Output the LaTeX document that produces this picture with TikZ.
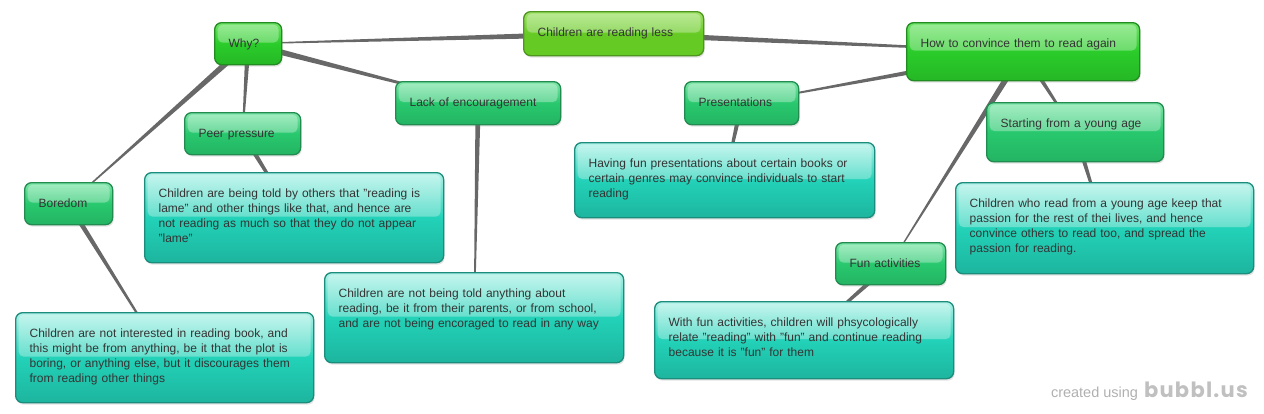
\documentclass[tikz,border=0pt]{standalone}
\usepackage{fontspec}
\setmainfont{Liberation Sans}
\newfontfamily\logofont[LetterSpace=6]{Poppins}
\usepackage{xcolor}
\usepackage{tikz}
\usetikzlibrary{calc,shadows,backgrounds}
\definecolor{rootlight}{RGB}{160,226,104}
\definecolor{rootdark}{RGB}{102,202,36}
\definecolor{rootedge}{RGB}{78,150,30}
\definecolor{mainlight}{RGB}{112,228,104}
\definecolor{maindark}{RGB}{42,204,42}
\definecolor{mainedge}{RGB}{34,140,34}
\definecolor{sublight}{RGB}{126,230,168}
\definecolor{subdark}{RGB}{40,200,110}
\definecolor{subedge}{RGB}{34,140,80}
\definecolor{notelight}{RGB}{176,242,232}
\definecolor{notedark}{RGB}{34,210,184}
\definecolor{noteedge}{RGB}{28,140,124}
\definecolor{linkgray}{RGB}{104,104,104}
\definecolor{inkgray}{RGB}{52,52,52}
\definecolor{creditgray}{RGB}{176,176,176}
\definecolor{logogray}{RGB}{192,192,192}
\newcommand{\branch}[4]{\fill[linkgray] ($(#1)!#3!90:(#2)$) -- ($(#1)!#3!-90:(#2)$) -- ($(#2)!#4!90:(#1)$) -- ($(#2)!#4!-90:(#1)$) -- cycle;}

\begin{document}
\begin{tikzpicture}[
  x=1pt, y=-1pt,
  bubble/.style={anchor=north west, rounded corners=7pt, line width=1.3pt, inner xsep=14pt, inner ysep=0pt,
    text height=25pt, align=left, text=inkgray, font=\fontsize{12}{15}\selectfont,
    drop shadow={opacity=.22, shadow xshift=1pt, shadow yshift=-2pt},
    path picture={\fill[white, opacity=.3, rounded corners=5pt]
      ([shift={(3pt,-2pt)}]path picture bounding box.north west) rectangle ([shift={(-3pt,1pt)}]path picture bounding box.east);}},
  rootbox/.style={bubble, draw=rootedge, top color=rootlight, bottom color=rootdark, middle color=rootdark},
  mainbox/.style={bubble, draw=mainedge, top color=mainlight, bottom color=maindark!90!black, middle color=maindark},
  subbox/.style={bubble, draw=subedge, top color=sublight, bottom color=subdark!90!black, middle color=subdark},
  notebox/.style={bubble, draw=noteedge, top color=notelight, bottom color=notedark!86!black, middle color=notedark}
]
  \useasboundingbox (0,0) rectangle (1264,413);

  \node[rootbox, text width=152pt, text depth=19pt] (root) at (523,11) {Children are reading less};
  \node[mainbox, text width=39pt, text depth=17pt] (why) at (214,22) {Why?};
  \node[mainbox, text width=205pt, text depth=33pt] (howto) at (906,22) {How to convince them to read again};

  \node[subbox, text width=88pt, text depth=17pt] (peer) at (184,112) {Peer pressure};
  \node[subbox, text width=137pt, text depth=18pt] (lack) at (395,81) {Lack of encouragement};
  \node[subbox, text width=60pt, text depth=17pt] (boredom) at (24,182) {Boredom};
  \node[subbox, text width=86pt, text depth=18pt] (present) at (684,81) {Presentations};
  \node[subbox, text width=149pt, text depth=34pt] (young) at (986,102) {Starting from a young age};
  \node[subbox, text width=82pt, text depth=17pt] (fun) at (835,242) {Fun activities};

  \node[notebox, text width=271pt, text depth=65pt] (peernote) at (144,172) {Children are being told by others that "reading is\\lame" and other things like that, and hence are\\not reading as much so that they do not appear\\"lame"};
  \node[notebox, text width=270pt, text depth=65pt] (boredomnote) at (15,312) {Children are not interested in reading book, and\\this might be from anything, be it that the plot is\\boring, or anything else, but it discourages them\\from reading other things};
  \node[notebox, text width=271pt, text depth=65pt] (lacknote) at (324,272) {Children are not being told anything about\\reading, be it from their parents, or from school,\\and are not being encoraged to read in any way};
  \node[notebox, text width=272pt, text depth=50pt] (presentnote) at (574,142) {Having fun presentations about certain books or\\certain genres may convince individuals to start\\reading};
  \node[notebox, text width=270pt, text depth=66pt] (youngnote) at (955,182) {Children who read from a young age keep that\\passion for the rest of thei lives, and hence\\convince others to read too, and spread the\\passion for reading.};
  \node[notebox, text width=271pt, text depth=52pt] (funnote) at (654,301) {With fun activities, children will phsycologically\\relate "reading" with "fun" and continue reading\\because it is "fun" for them};

  \node[anchor=east, inner sep=0pt] (credit) at (1248,391)
    {\color{creditgray}\fontsize{14.5}{15}\selectfont created using\hspace{6pt}\color{logogray}\logofont\fontsize{21}{21}\selectfont\bfseries bubbl.us};

  \begin{pgfonlayer}{background}
    \branch{root}{why}{3.2pt}{0.5pt}
    \branch{root}{howto}{3.2pt}{0.5pt}
    \branch{why}{boredom}{3.2pt}{0.4pt}
    \branch{why}{peer}{2.6pt}{0.6pt}
    \branch{why}{lack}{3.2pt}{0.5pt}
    \branch{howto}{present}{3.2pt}{0.4pt}
    \branch{howto}{young}{2.6pt}{0.6pt}
    \branch{howto}{fun}{3.2pt}{0.4pt}
    \branch{boredom}{boredomnote}{2.6pt}{0.5pt}
    \branch{peer}{peernote}{2.6pt}{0.6pt}
    \branch{lack}{lacknote}{2.6pt}{0.4pt}
    \branch{present}{presentnote}{2.6pt}{0.6pt}
    \branch{young}{youngnote}{2.6pt}{0.6pt}
    \branch{fun}{funnote}{2.6pt}{0.6pt}
  \end{pgfonlayer}
\end{tikzpicture}
\end{document}
